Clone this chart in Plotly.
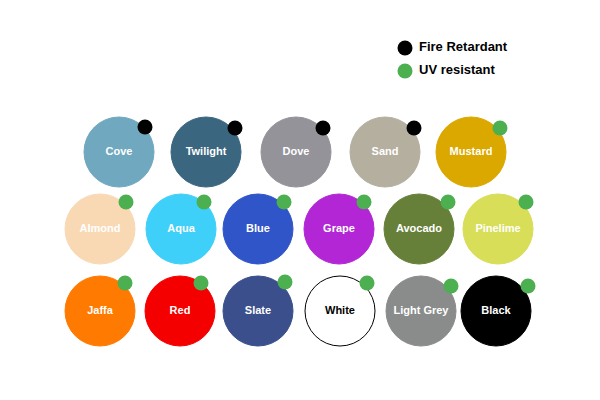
import plotly.graph_objects as go

names = ["Cove","Twilight","Dove","Sand","Mustard",
         "Almond","Aqua","Blue","Grape","Avocado","Pinelime",
         "Jaffa","Red","Slate","White","Light Grey","Black"]
colors = ["#6FA8BF","#3A6680","#939399","#B5AFA0","#DBA800",
          "#F9D9B4","#3ED0F9","#3055C8","#B226D6","#66803A","#D8DE58",
          "#FF7A00","#F50000","#3A4F8C","#FFFFFF","#8A8C8C","#000000"]
xs = [118,205,295,384,470, 99,180,257,338,418,497, 99,179,257,339,420,495]
ys = [151,151,151,151,151, 228,228,228,228,228,228, 310,310,310,310,310,310]
dot_x = [144,234,322,413,499, 125,203,283,363,447,525, 124,200,284,366,450,527]
dot_y = [126,127,127,127,127, 201,201,201,201,201,201, 282,282,281,282,285,285]
dot_type = ["fire"]*4 + ["uv"]*13

FIRE, UV = "#000000", "#4CAF50"

fig = go.Figure()
fig.add_trace(go.Scatter(
    x=xs, y=ys, mode="markers+text", text=names,
    marker=dict(size=70, color=colors,
                line=dict(color=["#000000" if c == "#FFFFFF" else c for c in colors], width=1)),
    textfont=dict(family="Liberation Sans, Arial", size=11,
                  color=["#000000" if c == "#FFFFFF" else "#FFFFFF" for c in colors],
                  weight="bold"),
    textposition="middle center", hoverinfo="text", showlegend=False))
fig.add_trace(go.Scatter(
    x=dot_x, y=dot_y, mode="markers",
    marker=dict(size=15, color=[FIRE if t == "fire" else UV for t in dot_type]),
    hoverinfo="skip", showlegend=False))

legend_labels = ["Fire Retardant", "UV resistant"]
legend_colors = [FIRE, UV]
fig.add_trace(go.Scatter(
    x=[404, 404], y=[47, 70], mode="markers",
    marker=dict(size=15, color=legend_colors),
    hoverinfo="skip", showlegend=False))
fig.add_trace(go.Scatter(
    x=[418, 418], y=[47, 70], mode="text", text=legend_labels,
    textposition="middle right",
    textfont=dict(family="Liberation Sans, Arial", size=13, color="#000", weight="bold"),
    hoverinfo="skip", showlegend=False))

fig.update_layout(
    width=600, height=400, margin=dict(l=0, r=0, t=0, b=0),
    plot_bgcolor="white", paper_bgcolor="white",
    xaxis=dict(range=[7, 607], visible=False, fixedrange=True),
    yaxis=dict(range=[407, 7], visible=False, fixedrange=True),
)
fig.write_html("out.html")
